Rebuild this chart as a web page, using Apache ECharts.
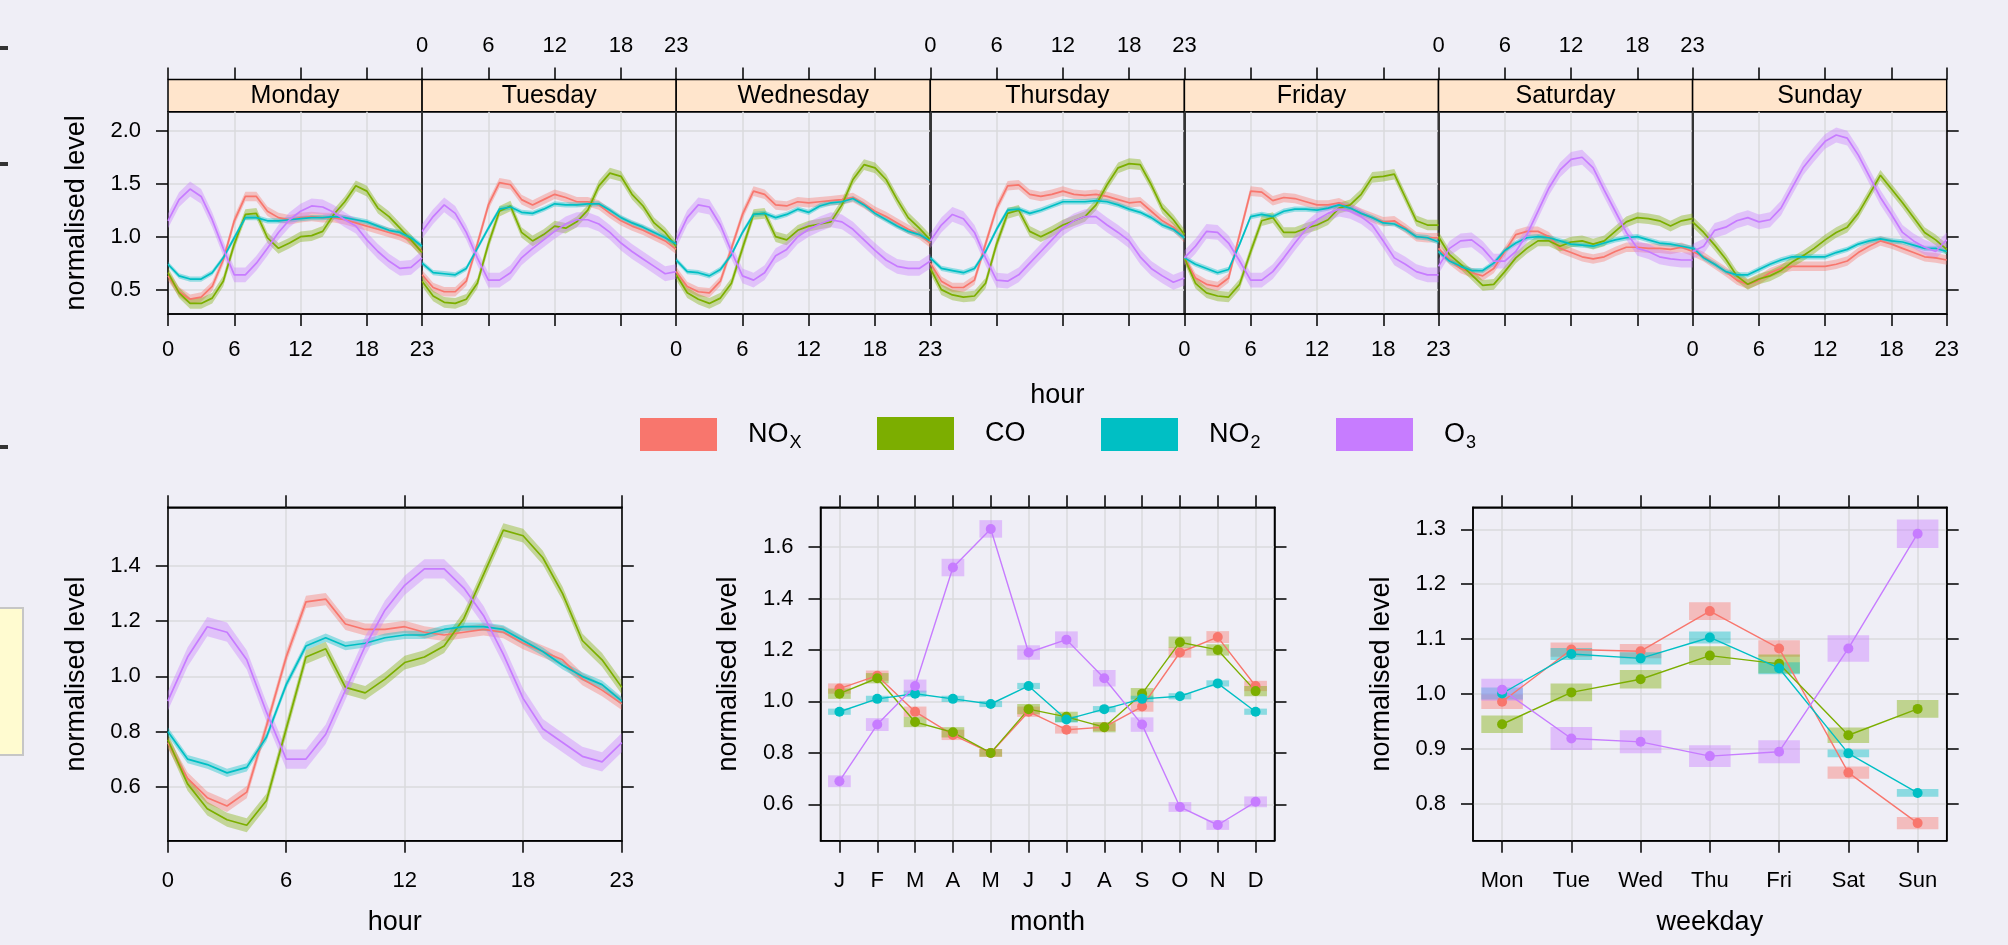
<!DOCTYPE html>
<html>
<head>
<meta charset="utf-8">
<script src="https://cdn.jsdelivr.net/npm/echarts@6/dist/echarts.min.js"></script>
<style>
  html, body { margin: 0; padding: 0; background: #efeef6; }
  #chart { width: 2008px; height: 945px; }
</style>
</head>
<body>
<div id="chart"></div>
<script>
// ---- data ----
var hours = [0,1,2,3,4,5,6,7,8,9,10,11,12,13,14,15,16,17,18,19,20,21,22,23];
var hourTicks = [0, 6, 12, 18, 23];
var dayNames = ['Monday','Tuesday','Wednesday','Thursday','Friday','Saturday','Sunday'];
var monthLabels = ['J','F','M','A','M','J','J','A','S','O','N','D'];
var weekdayLabels = ['Mon','Tue','Wed','Thu','Fri','Sat','Sun'];
var pollutants = ['NOx','CO','NO2','O3'];
var colors = ['#F8766D','#7CAE00','#00BFC4','#C77CFF'];

// hour x weekday panels (one row per day, Monday first)
var noxByDay = [
  [0.63,0.48,0.41,0.43,0.53,0.78,1.15,1.38,1.38,1.24,1.18,1.16,1.18,1.19,1.18,1.18,1.16,1.13,1.10,1.07,1.04,1.01,0.96,0.86],
  [0.64,0.52,0.48,0.48,0.58,0.93,1.30,1.51,1.49,1.35,1.30,1.35,1.40,1.37,1.33,1.33,1.30,1.22,1.15,1.10,1.06,1.01,0.96,0.88],
  [0.67,0.53,0.48,0.47,0.58,0.89,1.21,1.43,1.40,1.30,1.29,1.33,1.32,1.33,1.34,1.35,1.37,1.31,1.24,1.19,1.13,1.07,1.02,0.94],
  [0.75,0.58,0.52,0.52,0.59,0.93,1.27,1.48,1.49,1.40,1.38,1.40,1.43,1.40,1.39,1.40,1.38,1.35,1.32,1.33,1.24,1.15,1.09,0.99],
  [0.80,0.61,0.55,0.53,0.61,1.02,1.43,1.42,1.34,1.37,1.36,1.33,1.30,1.30,1.32,1.27,1.22,1.18,1.14,1.15,1.08,1.00,0.99,0.99],
  [0.89,0.78,0.70,0.66,0.63,0.70,0.86,1.02,1.05,1.05,1.00,0.89,0.85,0.81,0.79,0.81,0.86,0.90,0.90,0.89,0.89,0.88,0.90,0.86],
  [0.86,0.81,0.74,0.67,0.59,0.55,0.59,0.66,0.70,0.72,0.72,0.72,0.72,0.74,0.77,0.85,0.91,0.96,0.93,0.89,0.85,0.81,0.80,0.78]
];
var coByDay = [
  [0.66,0.47,0.37,0.37,0.42,0.58,0.93,1.21,1.22,0.99,0.89,0.94,1.00,1.01,1.05,1.21,1.33,1.48,1.43,1.27,1.19,1.08,0.97,0.85],
  [0.58,0.44,0.38,0.37,0.41,0.56,0.93,1.24,1.29,1.04,0.96,1.02,1.10,1.08,1.14,1.25,1.48,1.60,1.57,1.40,1.29,1.13,1.04,0.91],
  [0.64,0.47,0.41,0.37,0.42,0.56,0.89,1.21,1.22,1.00,0.97,1.06,1.10,1.12,1.14,1.30,1.54,1.68,1.65,1.54,1.35,1.18,1.08,0.97],
  [0.70,0.50,0.45,0.43,0.44,0.56,0.93,1.22,1.25,1.05,1.00,1.05,1.11,1.15,1.19,1.30,1.49,1.65,1.69,1.68,1.49,1.27,1.16,1.02],
  [0.80,0.56,0.47,0.44,0.43,0.55,0.86,1.15,1.18,1.04,1.04,1.08,1.11,1.16,1.27,1.30,1.40,1.56,1.57,1.59,1.37,1.15,1.11,1.11],
  [1.00,0.83,0.74,0.64,0.54,0.55,0.67,0.80,0.89,0.96,0.96,0.91,0.95,0.96,0.93,0.96,1.05,1.14,1.18,1.17,1.15,1.10,1.15,1.17],
  [1.14,1.04,0.92,0.79,0.63,0.55,0.60,0.63,0.68,0.76,0.82,0.89,0.97,1.04,1.09,1.22,1.40,1.58,1.45,1.32,1.18,1.04,0.97,0.88]
];
var no2ByDay = [
  [0.74,0.63,0.60,0.60,0.66,0.80,0.99,1.18,1.18,1.15,1.15,1.16,1.17,1.18,1.18,1.19,1.18,1.16,1.14,1.10,1.06,1.04,0.99,0.91],
  [0.75,0.66,0.65,0.64,0.70,0.89,1.08,1.26,1.28,1.23,1.22,1.26,1.31,1.30,1.30,1.31,1.31,1.25,1.18,1.13,1.09,1.04,0.99,0.93],
  [0.78,0.67,0.66,0.63,0.69,0.83,1.04,1.21,1.22,1.18,1.21,1.26,1.23,1.29,1.32,1.33,1.36,1.30,1.22,1.16,1.10,1.05,1.02,0.96],
  [0.80,0.70,0.68,0.66,0.70,0.86,1.07,1.25,1.26,1.22,1.25,1.29,1.33,1.33,1.33,1.34,1.33,1.30,1.26,1.23,1.18,1.11,1.07,0.99],
  [0.80,0.74,0.70,0.66,0.69,0.93,1.19,1.21,1.19,1.24,1.26,1.26,1.25,1.27,1.30,1.27,1.22,1.18,1.13,1.12,1.07,1.00,0.99,0.95],
  [0.86,0.77,0.72,0.68,0.68,0.75,0.87,0.94,0.99,1.00,0.99,0.96,0.93,0.92,0.91,0.94,0.97,0.99,1.00,0.97,0.94,0.93,0.91,0.89],
  [0.90,0.80,0.74,0.67,0.64,0.64,0.69,0.74,0.78,0.81,0.81,0.81,0.81,0.85,0.88,0.93,0.96,0.98,0.96,0.95,0.92,0.89,0.89,0.86]
];
var o3ByDay = [
  [1.15,1.35,1.45,1.38,1.16,0.89,0.64,0.64,0.75,0.89,1.04,1.16,1.24,1.29,1.28,1.23,1.16,1.10,0.97,0.86,0.77,0.70,0.71,0.80],
  [1.05,1.19,1.30,1.22,1.04,0.80,0.59,0.59,0.66,0.80,0.89,0.97,1.05,1.12,1.16,1.16,1.12,1.04,0.94,0.86,0.79,0.72,0.65,0.67],
  [0.96,1.18,1.30,1.28,1.11,0.86,0.63,0.59,0.66,0.82,0.88,1.00,1.07,1.12,1.16,1.14,1.07,0.97,0.87,0.78,0.72,0.70,0.70,0.77],
  [0.96,1.11,1.21,1.17,1.04,0.80,0.59,0.58,0.64,0.75,0.86,0.97,1.08,1.15,1.19,1.19,1.11,1.04,0.96,0.81,0.70,0.63,0.57,0.61],
  [0.80,0.91,1.05,1.04,0.94,0.77,0.59,0.59,0.67,0.80,0.94,1.07,1.16,1.22,1.26,1.24,1.19,1.11,0.96,0.80,0.74,0.67,0.64,0.64],
  [0.72,0.89,0.96,0.97,0.89,0.77,0.77,0.86,1.02,1.24,1.46,1.63,1.73,1.75,1.65,1.44,1.24,1.04,0.89,0.86,0.81,0.79,0.78,0.78],
  [0.86,0.91,1.06,1.09,1.15,1.18,1.14,1.16,1.27,1.46,1.65,1.78,1.90,1.96,1.93,1.77,1.57,1.37,1.21,1.04,0.96,0.90,0.86,0.97]
];
var dayBandHalf = [0.045, 0.05, 0.025, 0.07];   // NOx, CO, NO2, O3

// hour panel (all days)
var noxHour = [0.76,0.63,0.56,0.53,0.58,0.82,1.07,1.27,1.28,1.19,1.17,1.17,1.18,1.16,1.15,1.16,1.17,1.16,1.12,1.09,1.06,0.99,0.95,0.90];
var coHour  = [0.77,0.61,0.52,0.48,0.46,0.55,0.81,1.07,1.10,0.96,0.94,0.99,1.05,1.07,1.11,1.21,1.37,1.53,1.51,1.43,1.30,1.13,1.06,0.96];
var no2Hour = [0.80,0.70,0.68,0.65,0.67,0.78,0.97,1.11,1.14,1.11,1.12,1.14,1.15,1.15,1.17,1.18,1.18,1.17,1.13,1.09,1.04,1.00,0.97,0.91];
var o3Hour  = [0.91,1.07,1.18,1.16,1.06,0.87,0.70,0.70,0.79,0.95,1.11,1.24,1.33,1.39,1.39,1.32,1.22,1.08,0.92,0.81,0.76,0.71,0.69,0.76];
var hourBandHalf = [0.022, 0.025, 0.015, 0.035];

// month panel
var noxMonth = [1.05,1.10,0.96,0.87,0.80,0.96,0.89,0.90,0.98,1.19,1.25,1.06];
var coMonth  = [1.03,1.09,0.92,0.88,0.80,0.97,0.94,0.90,1.03,1.23,1.20,1.04];
var no2Month = [0.96,1.01,1.03,1.01,0.99,1.06,0.93,0.97,1.01,1.02,1.07,0.96];
var o3Month  = [0.69,0.91,1.06,1.52,1.67,1.19,1.24,1.09,0.91,0.59,0.52,0.61];
var noxMonthCi = [0.020,0.020,0.020,0.020,0.015,0.020,0.015,0.015,0.020,0.020,0.023,0.020];
var coMonthCi  = [0.020,0.020,0.020,0.020,0.015,0.020,0.020,0.020,0.022,0.022,0.022,0.020];
var no2MonthCi = [0.012,0.012,0.012,0.012,0.012,0.012,0.012,0.012,0.012,0.012,0.012,0.012];
var o3MonthCi  = [0.023,0.025,0.025,0.034,0.034,0.028,0.032,0.032,0.028,0.019,0.019,0.021];

// weekday panel
var noxWeekday = [0.986,1.081,1.078,1.151,1.083,0.857,0.765];
var coWeekday  = [0.945,1.003,1.027,1.070,1.055,0.925,0.973];
var no2Weekday = [1.001,1.073,1.065,1.103,1.047,0.892,0.820];
var o3Weekday  = [1.008,0.919,0.913,0.887,0.895,1.083,1.292];
var noxWeekdayCi = [0.013,0.013,0.013,0.016,0.015,0.011,0.011];
var coWeekdayCi  = [0.016,0.016,0.017,0.017,0.017,0.014,0.016];
var no2WeekdayCi = [0.011,0.011,0.011,0.011,0.011,0.007,0.007];
var o3WeekdayCi  = [0.020,0.021,0.021,0.020,0.021,0.024,0.026];

// ---- layout ----
var FONT = '"Liberation Sans", Arial, Helvetica, sans-serif';
var BLACK = {color: '#000', width: 1.5};
var GRIDLINE = {color: '#dadadd', width: 1.5};
var PL = 168, PW = 254.1, PT = 111.7, PH = 202.3, STRIP_H = 32.3;
var LT = 507.3, LH = 333.4;

var grids = [], xAxes = [], yAxes = [], series = [], graphics = [];

function axis(gi, pos, min, max, ticks, showLabel, fmt, margin) {
  return {
    gridIndex: gi, type: 'value', position: pos, min: min, max: max,
    axisLine: {show: true, onZero: false, lineStyle: BLACK},
    axisTick: {show: true, inside: false, length: 12, lineStyle: BLACK, customValues: ticks},
    axisLabel: {show: showLabel, customValues: ticks, formatter: fmt, color: '#000',
      fontSize: 22, fontFamily: FONT, margin: margin},
    splitLine: {show: false},
    nameTextStyle: {fontSize: 27, fontFamily: FONT, color: '#000'}
  };
}
function addX(o) { xAxes.push(o); return xAxes.length - 1; }
function addY(o) { yAxes.push(o); return yAxes.length - 1; }
var fmtInt = function (v) { return String(v); };
var fmt1 = function (v) { return v.toFixed(1); };

function bandSeries(xi, yi, xs, vals, half, color) {
  return {
    type: 'custom', name: 'band', xAxisIndex: xi, yAxisIndex: yi, silent: true,
    data: xs.map(function (x, i) { return [x, vals[i] - half, vals[i] + half]; }),
    encode: {x: 0, y: [1, 2]},
    renderItem: function (params, api) {
      if (params.dataIndex !== 0) return null;
      var up = [], lo = [];
      for (var i = 0; i < xs.length; i++) {
        up.push(api.coord([xs[i], vals[i] + half]));
        lo.unshift(api.coord([xs[i], vals[i] - half]));
      }
      return {type: 'polygon', shape: {points: up.concat(lo)}, style: {fill: color, opacity: 0.38}};
    }
  };
}
function lineSeries(xi, yi, xs, vals, color, name, dots) {
  return {
    type: 'line', name: name, xAxisIndex: xi, yAxisIndex: yi,
    data: xs.map(function (x, i) { return [x, vals[i]]; }),
    showSymbol: !!dots, symbol: 'circle', symbolSize: 10,
    itemStyle: {color: color}, lineStyle: {color: color, width: dots ? 1.4 : 1.7}
  };
}
function boxSeries(xi, yi, xs, vals, ci, color) {
  return {
    type: 'custom', name: 'ci', xAxisIndex: xi, yAxisIndex: yi, silent: true,
    data: xs.map(function (x, i) { return [x, vals[i] - ci[i], vals[i] + ci[i]]; }),
    encode: {x: 0, y: [1, 2]},
    renderItem: function (params, api) {
      var p1 = api.coord([api.value(0), api.value(2)]);
      var p2 = api.coord([api.value(0), api.value(1)]);
      var w = api.size([0.6, 0])[0];
      return {type: 'rect', shape: {x: p1[0] - w / 2, y: p1[1], width: w, height: p2[1] - p1[1]},
        style: {fill: color, opacity: 0.42}};
    }
  };
}

// ---- top row: hour by weekday ----
var byDay = [noxByDay, coByDay, no2ByDay, o3ByDay];
for (var d = 0; d < 7; d++) {
  grids.push({left: PL + d * PW, top: PT, width: PW, height: PH, show: true,
    borderColor: '#000', borderWidth: 1.5, backgroundColor: 'transparent'});
  var bx = axis(d, 'bottom', 0, 23, hourTicks, d % 2 === 0, fmtInt, 25);
  bx.splitLine = {show: true, lineStyle: GRIDLINE};
  if (d === 3) { bx.name = 'hour'; bx.nameLocation = 'middle'; bx.nameGap = 68; }
  var bxi = addX(bx);
  var tx = axis(d, 'top', 0, 23, hourTicks, d % 2 === 1, fmtInt, 22);
  tx.offset = STRIP_H; tx.axisLine = {show: false, onZero: false};
  addX(tx);
  var ly = axis(d, 'left', 0.27, 2.18, [0.5, 1, 1.5, 2], d === 0, fmt1, 27);
  ly.axisTick.show = d === 0;
  ly.splitLine = {show: true, lineStyle: GRIDLINE};
  if (d === 0) { ly.name = 'normalised level'; ly.nameLocation = 'middle'; ly.nameGap = 78; }
  var lyi = addY(ly);
  if (d === 6) addY(axis(d, 'right', 0.27, 2.18, [0.5, 1, 1.5, 2], false, fmt1, 27));
  for (var p = 0; p < 4; p++) {
    series.push(bandSeries(bxi, lyi, hours, byDay[p][d], dayBandHalf[p], colors[p]));
    series.push(lineSeries(bxi, lyi, hours, byDay[p][d], colors[p], pollutants[p]));
  }
  graphics.push({type: 'rect', shape: {x: PL + d * PW, y: PT - STRIP_H, width: PW, height: STRIP_H},
    style: {fill: '#FFE5CC', stroke: '#000', lineWidth: 1.5}});
  graphics.push({type: 'text', x: PL + d * PW + PW / 2, y: PT - STRIP_H / 2 + 1,
    style: {text: dayNames[d], fill: '#000', font: '25px ' + FONT, textAlign: 'center', textVerticalAlign: 'middle'}});
}

// ---- bottom row ----
function lowerPanel(left, width, xmin, xmax, xticks, xfmt, xname, ymin, ymax, yticks) {
  var gi = grids.length;
  grids.push({left: left, top: LT, width: width, height: LH, show: true,
    borderColor: '#000', borderWidth: 1.5, backgroundColor: 'transparent'});
  var bx = axis(gi, 'bottom', xmin, xmax, xticks, true, xfmt, 29);
  bx.splitLine = {show: true, lineStyle: GRIDLINE};
  bx.name = xname; bx.nameLocation = 'middle'; bx.nameGap = 68;
  var bxi = addX(bx);
  addX(axis(gi, 'top', xmin, xmax, xticks, false, xfmt, 22));
  var ly = axis(gi, 'left', ymin, ymax, yticks, true, fmt1, 27);
  ly.splitLine = {show: true, lineStyle: GRIDLINE};
  ly.name = 'normalised level'; ly.nameLocation = 'middle'; ly.nameGap = 78;
  var lyi = addY(ly);
  addY(axis(gi, 'right', ymin, ymax, yticks, false, fmt1, 27));
  return [bxi, lyi];
}

var hourVals = [noxHour, coHour, no2Hour, o3Hour];
var ax = lowerPanel(167.8, 454, 0, 23, hourTicks, fmtInt, 'hour', 0.404, 1.613, [0.6, 0.8, 1.0, 1.2, 1.4]);
for (var p = 0; p < 4; p++) {
  series.push(bandSeries(ax[0], ax[1], hours, hourVals[p], hourBandHalf[p], colors[p]));
  series.push(lineSeries(ax[0], ax[1], hours, hourVals[p], colors[p], pollutants[p]));
}

var monthIdx = monthLabels.map(function (m, i) { return i; });
var monthVals = [noxMonth, coMonth, no2Month, o3Month];
var monthCis = [noxMonthCi, coMonthCi, no2MonthCi, o3MonthCi];
ax = lowerPanel(820.5, 454, -0.5, 11.5, monthIdx, function (v) { return monthLabels[Math.round(v)]; },
  'month', 0.459, 1.754, [0.6, 0.8, 1.0, 1.2, 1.4, 1.6]);
for (var p = 0; p < 4; p++) {
  series.push(boxSeries(ax[0], ax[1], monthIdx, monthVals[p], monthCis[p], colors[p]));
  series.push(lineSeries(ax[0], ax[1], monthIdx, monthVals[p], colors[p], pollutants[p], true));
}

var dayIdx = weekdayLabels.map(function (m, i) { return i; });
var wdVals = [noxWeekday, coWeekday, no2Weekday, o3Weekday];
var wdCis = [noxWeekdayCi, coWeekdayCi, no2WeekdayCi, o3WeekdayCi];
ax = lowerPanel(1473, 473.7, -0.42, 6.42, dayIdx, function (v) { return weekdayLabels[Math.round(v)]; },
  'weekday', 0.733, 1.34, [0.8, 0.9, 1.0, 1.1, 1.2, 1.3]);
for (var p = 0; p < 4; p++) {
  series.push(boxSeries(ax[0], ax[1], dayIdx, wdVals[p], wdCis[p], colors[p]));
  series.push(lineSeries(ax[0], ax[1], dayIdx, wdVals[p], colors[p], pollutants[p], true));
}

// ---- key ----
var keyLeft = [640, 877, 1101, 1336];
var keyText = {NOx: '{g|}{m|NO}{s|X}', CO: '{g|}{m|CO}', NO2: '{g|}{m|NO}{s|2}', O3: '{g|}{m|O}{s|3}'};
var legends = pollutants.map(function (name, i) {
  return {
    data: [{name: name, icon: 'rect', itemStyle: {color: colors[i], borderWidth: 0}}],
    left: keyLeft[i], top: 417, itemWidth: 77, itemHeight: 33, selectedMode: false, padding: 0,
    formatter: function (n) { return keyText[n]; },
    textStyle: {
      color: '#000', fontFamily: FONT,
      rich: {
        g: {width: 26},
        m: {fontSize: 27, fontFamily: FONT, color: '#000', lineHeight: 32},
        s: {fontSize: 18, fontFamily: FONT, color: '#000', lineHeight: 18, padding: [17, 0, 0, 1]}
      }
    }
  };
});

// stray marks on the left edge of the screenshot
graphics.push({type: 'rect', shape: {x: -2, y: 608, width: 25, height: 147}, style: {fill: '#FFFBD0', stroke: '#c6c6c6', lineWidth: 2}});
[46, 162, 445].forEach(function (y) {
  graphics.push({type: 'rect', shape: {x: 0, y: y, width: 8, height: 4}, style: {fill: '#333'}});
});

var chart = echarts.init(document.getElementById('chart'));
chart.setOption({
  animation: false,
  backgroundColor: '#efeef6',
  textStyle: {fontFamily: FONT},
  grid: grids,
  xAxis: xAxes,
  yAxis: yAxes,
  legend: legends,
  graphic: graphics,
  series: series
});
</script>
</body>
</html>
